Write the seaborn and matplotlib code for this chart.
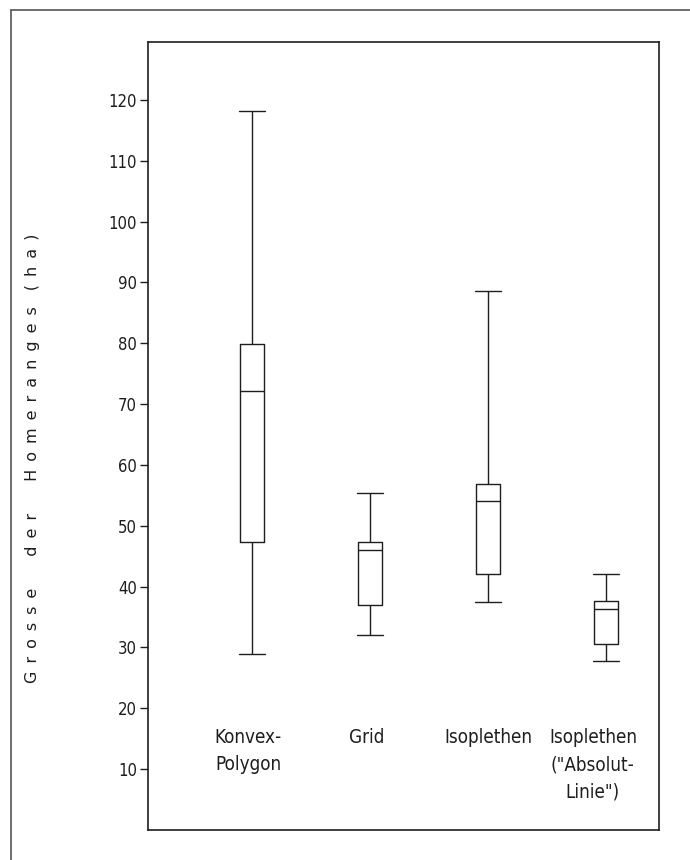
import numpy as np
import pandas as pd
import matplotlib
matplotlib.use("Agg")
import matplotlib.pyplot as plt
from matplotlib.lines import Line2D
import seaborn as sns

# ---- data (five-number summaries, in ha) ----
methods = ["Konvex-Polygon", "Grid", "Isoplethen", "Isoplethen (Absolut-Linie)"]
labels = ["Konvex-\nPolygon", "Grid", "Isoplethen", "Isoplethen\n(\"Absolut-\nLinie\")"]
whisker_low = [29.0, 32.0, 37.4, 27.7]
q1 = [47.3, 37.0, 42.1, 30.6]
median = [72.1, 46.0, 54.1, 36.3]
q3 = [79.8, 47.3, 56.9, 37.7]
whisker_high = [118.1, 55.4, 88.5, 42.0]
yticks = [10, 20, 30, 40, 50, 60, 70, 80, 90, 100, 110, 120]

rows = []
for m, a, b, c, d, e in zip(methods, whisker_low, q1, median, q3, whisker_high):
    for v in (a, b, c, d, e):
        rows.append({"Methode": m, "ha": v})
df = pd.DataFrame(rows)

sns.set_theme(style="white")
plt.rcParams["font.family"] = ["DejaVu Sans"]
plt.rcParams["font.stretch"] = "condensed"

ink = "#1e1e1e"
fig = plt.figure(figsize=(6.9, 8.6), dpi=100)
fig.patch.set_facecolor("white")
ax = fig.add_axes([148 / 690, 1 - 830 / 860, (659 - 148) / 690, (830 - 42) / 860])

sns.boxplot(data=df, x="Methode", y="ha", order=methods, whis=(0, 100),
            width=0.2, fill=False, color=ink, linewidth=1.0,
            capwidths=0.22, ax=ax)

ax.set_xlim(-0.88, 3.45)
ax.set_ylim(0, 129.5)
ax.set_yticks(yticks)
ax.set_yticklabels([str(t) for t in yticks])
ax.set_xticks([])
ax.set_xlabel("")
ax.tick_params(axis="y", which="major", left=True, direction="out",
               length=6, width=1.0, color=ink, pad=2, labelsize=12,
               labelcolor=ink)
for t in ax.get_yticklabels():
    t.set_fontstretch("condensed")
for s in ax.spines.values():
    s.set_visible(True)
    s.set_color(ink)
    s.set_linewidth(1.2)

label_shift = [-0.03, -0.03, 0.0, -0.11]
for i, lab in enumerate(labels):
    ax.text(i + label_shift[i], 16.8, lab, ha="center", va="top", fontsize=13.5,
            color=ink, linespacing=1.55, multialignment="center",
            fontstretch="condensed")

en = "\u2002"
def spaced(word):
    return en.join(list(word))
ylab = (spaced("Grosse") + en * 4 + spaced("der") + en * 4 +
        spaced("Homeranges") + en * 2 + spaced("(ha)"))
ax.set_ylabel(ylab, fontsize=11.5, color=ink, family=["DejaVu Sans"],
              fontstretch="normal")
ax.yaxis.set_label_coords(-0.211, 0.472)

# outer frame (left and top edges visible)
fig.add_artist(Line2D([11 / 690, 11 / 690], [0, 1 - 10 / 860],
                      transform=fig.transFigure, color="#555555", lw=1.2))
fig.add_artist(Line2D([11 / 690, 1], [1 - 10 / 860, 1 - 10 / 860],
                      transform=fig.transFigure, color="#555555", lw=1.2))

fig.savefig("out.png", dpi=100)
